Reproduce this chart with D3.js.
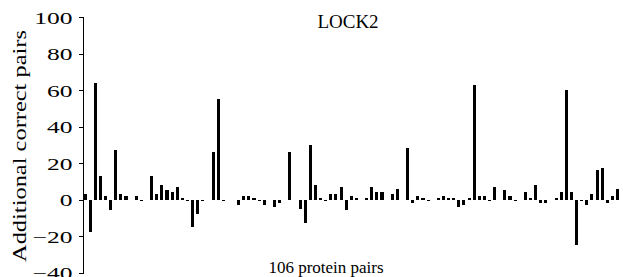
<!DOCTYPE html>
<meta charset="utf-8">
<style>
body { margin: 0; background: #fff; }
.axis path, .axis line { stroke: #000; stroke-width: 1; shape-rendering: crispEdges; }
.bar { fill: #000; shape-rendering: crispEdges; }
</style>
<div id="chart"></div>
<script src="https://cdn.jsdelivr.net/npm/d3@7/dist/d3.min.js"></script>
<script>

// one value per protein pair left to right
var pairs = [
  3, -18, 64, 13, 2, -6, 27, 3, 2, 0, 2, -1, 0, 13, 3, 8, 5, 4, 7, 1, -1, -15, -8,
  -1, 0, 26, 55, -1, 0, 0, -3, 2, 2, 1, -1, -3, 0, -4, -2, 0, 26, 0, -5, -13, 30, 8, 1, -1, 3, 3,
  7, -6, 2, 1, 0, 1, 7, 4, 4, 0, 3, 6, 0, 28, -2, 2, 1, -1, 0, 1, 2, 1, 1, -4, -3, 1, 63,
  2, 2, -1, 7, 0, 5, 2, -1, 0, 4, 1, 8, -2, -2, 0, 1, 4, 60, 4, -25, -1, -3, 3, 16, 17, -2, 2, 6,
  0
]
var pairIds = pairs.map(function(d, i) { return i + 1 })
var yTicks = [-40, -20, 0, 20, 40, 60, 80, 100]

var chartTitle = "LOCK2"
var xTitle = "106 protein pairs"
var yTitle = "Additional correct pairs"

var width = 623, height = 277

var svg = d3.select("#chart").append("svg")
    .attr("width", width)
    .attr("height", height)

var x = d3.scaleBand()
    .domain(pairIds)
    .range([82.5, 82.5 + 5.12 * pairIds.length])
    .paddingInner(0.4)
    .paddingOuter(0.2)

var y = d3.scaleLinear()
    .domain([-40, 100])
    .range([272.5, 17])

svg.append("g")
    .attr("class", "bars")
  .selectAll("rect")
    .data(pairs)
  .enter().append("rect")
    .attr("class", "bar")
    .attr("x", function(d, i) { return x(pairIds[i]) })
    .attr("width", x.bandwidth())
    .attr("y", function(d) { return y(Math.max(0, d)) })
    .attr("height", function(d) { return Math.abs(y(d) - y(0)) })

var yAxis = svg.append("g")
    .attr("class", "axis")
    .attr("transform", "translate(82.5,0)")
    .call(d3.axisLeft(y).tickValues(yTicks).tickSizeOuter(0).tickSize(4).tickPadding(6)
      .tickFormat(function(d) { return d < 0 ? "\u2212" + Math.abs(d) : d }))
    .attr("font-family", "Liberation Serif")
    .attr("font-size", 17)

// tick labels in the picture are drawn wide, stretch them
yAxis.selectAll(".tick text")
    .attr("x", -10)
    .attr("dy", "0.36em")
    .each(function() {
      var w = this.getComputedTextLength()
      d3.select(this).attr("textLength", w * 1.5).attr("lengthAdjust", "spacingAndGlyphs")
    })

svg.append("text")
    .attr("x", 348)
    .attr("y", 28)
    .attr("text-anchor", "middle")
    .attr("font-family", "Liberation Serif")
    .attr("font-size", 19)
    .text(chartTitle)

svg.append("text")
    .attr("x", 326)
    .attr("y", 273)
    .attr("text-anchor", "middle")
    .attr("font-family", "Liberation Serif")
    .attr("font-size", 17)
    .text(xTitle)

svg.append("text")
    .attr("transform", "translate(26,146) rotate(-90)")
    .attr("text-anchor", "middle")
    .attr("font-family", "Liberation Serif")
    .attr("font-size", 18.5)
    .attr("textLength", 232)
    .attr("lengthAdjust", "spacingAndGlyphs")
    .text(yTitle)

</script>
